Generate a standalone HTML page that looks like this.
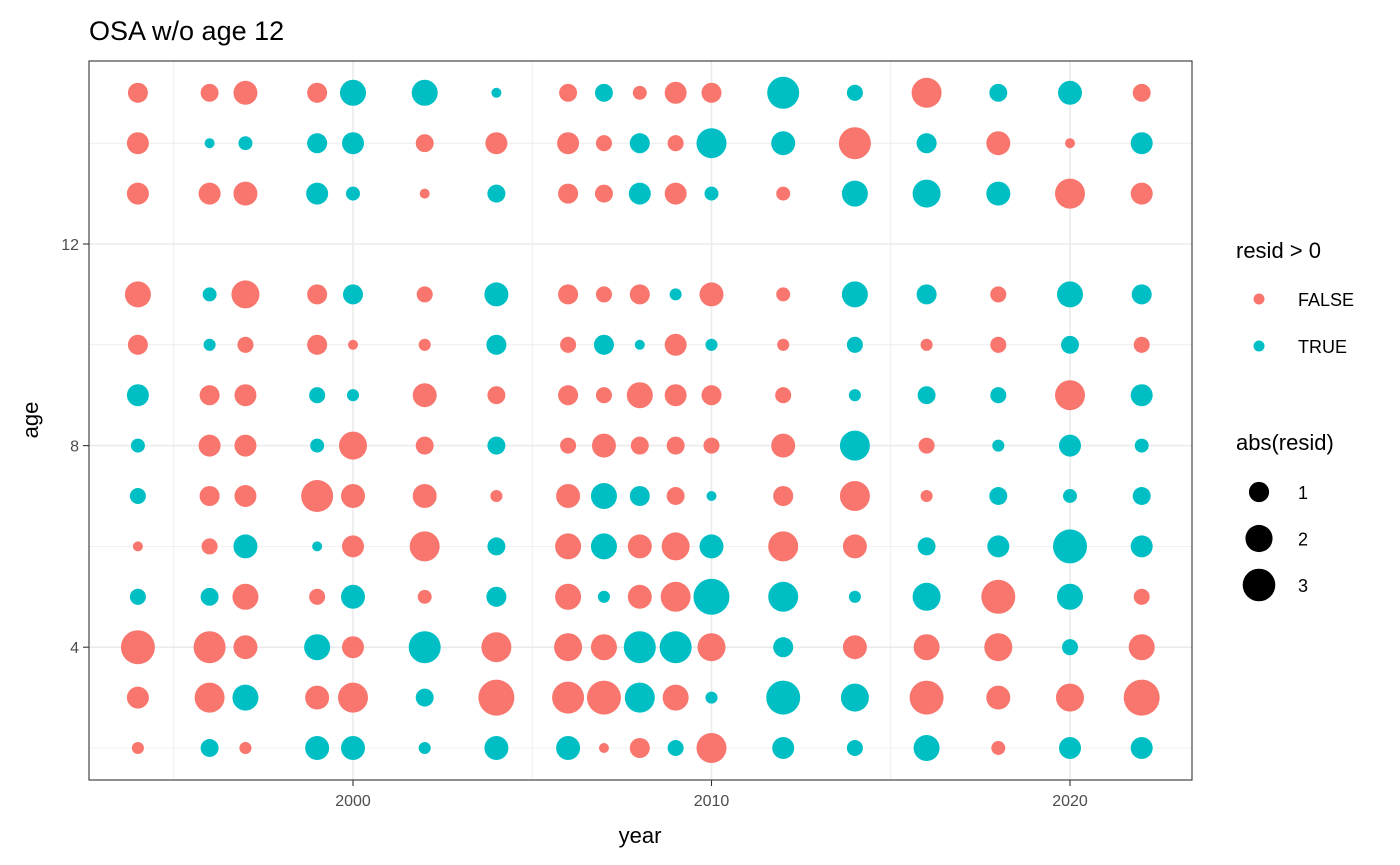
<!DOCTYPE html>
<html><head><meta charset="utf-8"><style>
body{margin:0;background:#fff;}
svg{display:block;font-family:"Liberation Sans",Arial,sans-serif;}
</style></head><body>
<svg id="chart" width="1400" height="865" viewBox="0 0 1400 865" xmlns="http://www.w3.org/2000/svg">
<rect width="1400" height="865" fill="#fff"/>
<text x="89" y="40" font-size="27" fill="#000">OSA w/o age 12</text>
<g id="grid"></g>
<g id="points"></g>
<rect x="89" y="61" width="1103" height="719" fill="none" stroke="#333" stroke-width="1.1"/>
<g id="axes"></g>
<text x="640" y="843" font-size="22" text-anchor="middle">year</text>
<text transform="translate(38,420) rotate(-90)" font-size="22" text-anchor="middle">age</text>
<g id="legend">
<text x="1236" y="258" font-size="22">resid &gt; 0</text>
<text x="1236" y="450" font-size="22">abs(resid)</text>
</g>
</svg>
<script>
const years = [1994,1996,1997,1999,2000,2002,2004,2006,2007,2008,2009,2010,2012,2014,2016,2018,2020,2022];
const ages = [15,14,13,11,10,9,8,7,6,5,4,3,2];
// signed residuals per year (positive = TRUE), in order of ages
const resid = [
 [-0.98,-1.23,-1.23,-1.82,-0.98,1.23,0.35,0.54,-0.06,0.54,-3.28,-1.23,-0.2],
 [-0.74,0.06,-1.23,0.35,0.2,-0.98,-1.23,-0.98,-0.54,0.74,-2.88,-2.5,0.74],
 [-1.51,0.35,-1.51,-2.15,-0.54,-1.23,-1.23,-1.23,1.51,-1.82,-1.51,1.82,-0.2],
 [-0.98,0.98,1.23,-0.98,-0.98,0.54,0.35,-2.88,0.06,-0.54,1.82,-1.51,1.51],
 [1.82,1.23,0.35,0.98,-0.06,0.2,-2.15,-1.51,-1.23,1.51,-1.23,-2.5,1.51],
 [1.82,-0.74,-0.06,-0.54,-0.2,-1.51,-0.74,-1.51,-2.5,-0.35,2.88,0.74,0.2],
 [0.06,-1.23,0.74,1.51,0.98,-0.74,0.74,-0.2,0.74,0.98,-2.5,-3.71,1.51],
 [-0.74,-1.23,-0.98,-0.98,-0.54,-0.98,-0.54,-1.51,-1.82,-1.82,-2.15,-2.88,1.51],
 [0.74,-0.54,-0.74,-0.54,0.98,-0.54,-1.51,1.82,1.82,0.2,-1.82,-3.28,-0.06],
 [-0.35,0.98,1.23,-0.98,0.06,-1.82,-0.74,0.98,-1.51,-1.51,2.88,2.5,-0.98],
 [-1.23,-0.54,-1.23,0.2,-1.23,-1.23,-0.74,-0.74,-2.15,-2.5,2.88,-1.82,0.54],
 [-0.98,2.5,0.35,-1.51,0.2,-0.98,-0.54,0.06,1.51,3.71,-2.15,0.2,-2.5],
 [2.88,1.51,-0.35,-0.35,-0.2,-0.54,-1.51,-0.98,-2.5,2.5,0.98,3.28,1.23],
 [0.54,-2.88,1.82,1.82,0.54,0.2,2.5,-2.5,-1.51,0.2,-1.51,2.15,0.54],
 [-2.5,0.98,2.15,0.98,-0.2,0.74,-0.54,-0.2,0.74,2.15,-1.82,-3.28,1.82],
 [0.74,-1.51,1.51,-0.54,-0.54,0.54,0.2,0.74,1.23,-3.28,-2.15,-1.51,-0.35],
 [1.51,-0.06,-2.5,1.82,0.74,-2.5,1.23,0.35,3.28,1.82,0.54,-2.15,1.23],
 [-0.74,1.23,-1.23,0.98,-0.54,1.23,0.35,0.74,1.23,-0.54,-1.82,-3.71,1.23]
];
const xTicks = [2000,2010,2020];
const xMinor = [1995,2005,2015];
const yTicks = [4,8,12];
const yMinor = [2,6,10,14];
const sizeLegend = [1,2,3];

const NS='http://www.w3.org/2000/svg';
const X = y => 353 + (y-2000)*35.85;
const Y = a => 244 - (a-12)*50.4;
const R = v => Math.sqrt(20 + 82*Math.abs(v));
function mk(tag, attrs, parent){const e=document.createElementNS(NS,tag);for(const k in attrs)e.setAttribute(k,attrs[k]);parent.appendChild(e);return e;}
const grid=document.getElementById('grid'), pts=document.getElementById('points'), axes=document.getElementById('axes'), leg=document.getElementById('legend');
mk('rect',{x:89,y:61,width:1103,height:719,fill:'#fff'},grid);
xMinor.forEach(v=>{const l=mk('line',{x1:X(v),x2:X(v),y1:61,y2:780,stroke:'#ebebeb','stroke-width':0.8},grid);

});
yMinor.forEach(v=>{const l=mk('line',{x1:89,x2:1192,y1:Y(v),y2:Y(v),stroke:'#ebebeb','stroke-width':0.8},grid);

});
xTicks.forEach(v=>{const l=mk('line',{x1:X(v),x2:X(v),y1:61,y2:780,stroke:'#ebebeb','stroke-width':1.6},grid);


const t=mk('line',{x1:X(v),x2:X(v),y1:780,y2:786,stroke:'#333','stroke-width':1.1},axes);


const tx=mk('text',{x:X(v),y:806,'font-size':16,fill:'#4d4d4d','text-anchor':'middle'},axes);tx.textContent=v;

});
yTicks.forEach(v=>{const l=mk('line',{x1:89,x2:1192,y1:Y(v),y2:Y(v),stroke:'#ebebeb','stroke-width':1.6},grid);


const t=mk('line',{x1:83,x2:89,y1:Y(v),y2:Y(v),stroke:'#333','stroke-width':1.1},axes);


const tx=mk('text',{x:79,y:Y(v)+6,'font-size':16,fill:'#4d4d4d','text-anchor':'end'},axes);tx.textContent=v;

});
years.forEach((yr,i)=>ages.forEach((a,j)=>{const v=resid[i][j];
const c=mk('circle',{cx:X(yr),cy:Y(a),r:R(v),fill:v>0?'#00BFC4':'#F8766D'},pts);

}));
[['FALSE','#F8766D',299],['TRUE','#00BFC4',346]].forEach(([lab,col,y])=>{
const c=mk('circle',{cx:1259,cy:y,r:5.5,fill:col},leg);


const t=mk('text',{x:1298,y:y+7,'font-size':18},leg);t.textContent=lab;

});
sizeLegend.forEach((v,i)=>{const y=492+i*46.5;
const c=mk('circle',{cx:1259,cy:y,r:R(v),fill:'#000'},leg);


const t=mk('text',{x:1298,y:y+7,'font-size':18},leg);t.textContent=v;

});
</script>
</body></html>
